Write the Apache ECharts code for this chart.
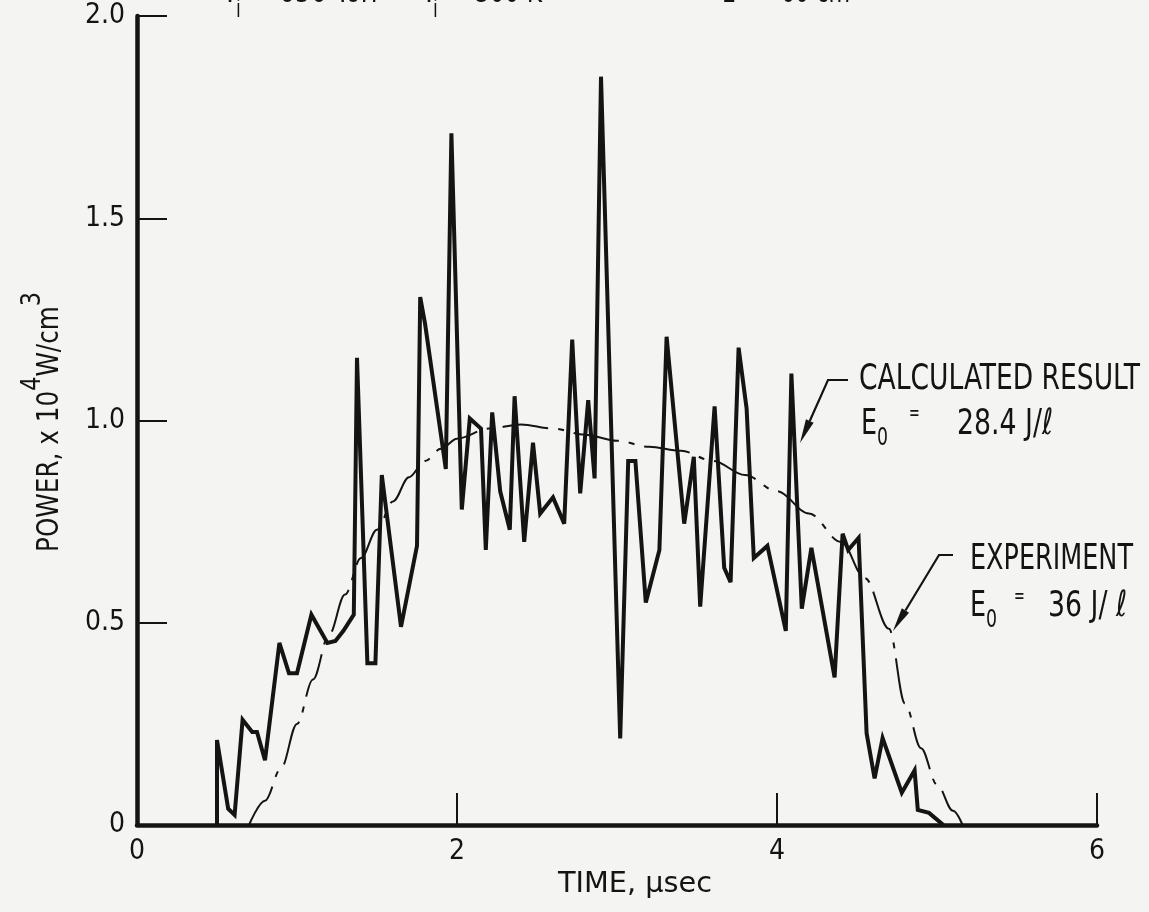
<!DOCTYPE html>
<html><head><meta charset="utf-8">
<script src="https://cdn.jsdelivr.net/npm/echarts@6/dist/echarts.min.js"></script>
<style>html,body{margin:0;padding:0;background:#f4f4f2}#c{width:1149px;height:912px}</style>
</head><body><div id="c"></div>
<script>
// ---- data ----
const xTickValues = [0, 2, 4, 6];
const yTickLabels = ['0', '0.5', '1.0', '1.5', '2.0'];
// jagged trace (labelled "CALCULATED RESULT")
const calcTime = [0.50,0.50,0.57,0.61,0.66,0.72,0.75,0.80,0.89,0.95,1.00,1.09,1.19,1.24,1.29,1.355,1.375,1.44,1.49,1.53,1.65,1.75,1.77,1.80,1.93,1.965,2.03,2.08,2.15,2.18,2.22,2.27,2.33,2.36,2.42,2.475,2.52,2.60,2.67,2.72,2.77,2.82,2.86,2.90,3.02,3.07,3.115,3.18,3.265,3.31,3.42,3.48,3.52,3.61,3.67,3.71,3.76,3.81,3.855,3.94,4.055,4.09,4.155,4.215,4.36,4.41,4.445,4.51,4.56,4.61,4.66,4.78,4.86,4.88,4.95,5.04];
const calcPower = [0,0.21,0.04,0.025,0.26,0.23,0.23,0.16,0.45,0.375,0.375,0.52,0.45,0.455,0.48,0.52,1.155,0.40,0.40,0.865,0.49,0.69,1.305,1.24,0.88,1.71,0.78,1.005,0.98,0.68,1.02,0.825,0.73,1.06,0.70,0.945,0.77,0.81,0.745,1.20,0.82,1.05,0.857,1.85,0.214,0.90,0.90,0.55,0.68,1.207,0.745,0.91,0.54,1.035,0.636,0.60,1.18,1.03,0.66,0.69,0.48,1.116,0.535,0.685,0.365,0.72,0.68,0.71,0.227,0.115,0.215,0.08,0.135,0.037,0.03,0];
// smooth dash-dot trace (labelled "EXPERIMENT")
const expTime = [0.70,0.80,0.90,1.00,1.10,1.20,1.30,1.40,1.50,1.60,1.70,1.80,1.90,2.00,2.20,2.40,2.60,2.80,3.00,3.20,3.40,3.60,3.80,4.00,4.20,4.40,4.55,4.70,4.80,4.90,5.00,5.10,5.16];
const expPower = [0,0.06,0.14,0.25,0.36,0.47,0.57,0.66,0.73,0.80,0.86,0.90,0.93,0.955,0.98,0.99,0.98,0.965,0.95,0.935,0.925,0.90,0.865,0.825,0.77,0.70,0.61,0.485,0.30,0.19,0.10,0.035,0];

// ---- build ----
const FONT = "'Liberation Sans Narrow','DejaVu Sans Condensed','Liberation Sans',sans-serif";
const INK = '#141414';
const calcData = calcTime.map((t, i) => [t, calcPower[i]]);
const expData = expTime.map((t, i) => [t, expPower[i]]);

const ctx = document.createElement('canvas').getContext('2d');
function tw(text, size) { ctx.font = size + 'px ' + FONT; return ctx.measureText(text).width; }

function txt(text, x, y, size, align, valign, extra) {
  return Object.assign({
    type: 'text', x: x, y: y, silent: true,
    style: { text: text, fontSize: size, fontFamily: FONT, fill: INK,
      textAlign: align || 'left', textVerticalAlign: valign || 'middle',
      align: align || 'left', verticalAlign: valign || 'middle' }
  }, extra || {});
}
// text squeezed horizontally to span [left, right]
function fit(text, left, right, y, size, valign) {
  const s = (right - left) / tw(text, size);
  return txt(text, left, y, size, 'left', valign || 'middle', { scaleX: s, scaleY: 1 });
}
function sq(text, left, y, size, s) {
  return txt(text, left, y, size, 'left', 'middle', { scaleX: s, scaleY: 1 });
}

function leader(from, knee, tip) {
  const dx = tip[0] - knee[0], dy = tip[1] - knee[1];
  const L = Math.hypot(dx, dy), ux = dx / L, uy = dy / L;
  const hl = 24, hw = 4.2;
  const bx = tip[0] - ux * hl, by = tip[1] - uy * hl;
  const px = -uy * hw, py = ux * hw;
  return [
    { type: 'polyline', silent: true, shape: { points: [from, knee, [bx, by]] },
      style: { stroke: INK, lineWidth: 2.2, fill: null } },
    { type: 'polygon', silent: true, shape: { points: [tip, [bx + px, by + py], [bx - px, by - py]] },
      style: { fill: INK } }
  ];
}

// rotated y-axis title with superscripts, squeezed to the reference length
function yTitle(cx, cy, length) {
  const main = 30, sup = 27;
  const parts = [['POWER, x 10', main, 0], ['4', sup, -17], ['W/cm', main, 0], ['3', sup, -17]];
  const widths = parts.map(p => tw(p[0], p[1]));
  const total = widths.reduce((a, b) => a + b, 0);
  let x = -total / 2;
  const children = parts.map((p, i) => {
    const el = txt(p[0], x, p[2], p[1], 'left', 'middle');
    x += widths[i];
    return el;
  });
  return { type: 'group', x: cx, y: cy, rotation: Math.PI / 2,
    children: [{ type: 'group', scaleX: length / total, children: children }] };
}

const numScale = 96 / tw('28.4 J/\u2113', 36);

const graphics = [
  // truncated header line at the very top
  fit('T', 222, 238, 10, 34, 'bottom'), txt('i', 236, 23, 24, 'left', 'bottom', { scaleX: 0.8 }),
  fit('= 650 Torr', 250, 381, 10, 34, 'bottom'),
  fit('T', 421, 437, 10, 34, 'bottom'), txt('i', 433, 23, 24, 'left', 'bottom', { scaleX: 0.8 }),
  fit('= 300 K', 448, 542, 10, 34, 'bottom'),
  fit('L  =  60 cm', 722, 850, 10, 34, 'bottom'),
  // axis titles
  fit('TIME, \u03bcsec', 558, 712, 884, 29, 'middle'),
  yTitle(50, 422, 260),
  // annotation: calculated result
  fit('CALCULATED RESULT', 859, 1140, 380, 36),
  fit('E', 861, 877, 425, 36),
  fit('0', 877, 888, 439, 24),
  sq('=', 909, 414, 22, 0.65),
  sq('28.4 J/\u2113', 957, 425, 36, numScale),
  // annotation: experiment
  fit('EXPERIMENT', 970, 1133, 560, 36),
  fit('E', 970, 986, 607, 36),
  fit('0', 986, 997, 621, 24),
  sq('=', 1014, 597, 22, 0.65),
  sq('36 J/ \u2113', 1048, 607, 36, numScale)
].concat(leader([848, 380], [828, 380], [800, 443]))
 .concat(leader([953, 555], [939, 555], [893, 631]));

const chart = echarts.init(document.getElementById('c'), null, { renderer: 'canvas' });
chart.setOption({
  backgroundColor: '#f4f4f2',
  animation: false,
  grid: { left: 137, right: 52, top: 16, bottom: 87, containLabel: false },
  xAxis: {
    type: 'value', min: 0, max: 6, interval: 2,
    axisLine: { show: true, lineStyle: { color: INK, width: 4.5 } },
    axisTick: { show: true, inside: true, length: 32, lineStyle: { color: INK, width: 2 },
      customValues: xTickValues },
    axisLabel: { show: true, margin: 13, fontSize: 28, fontFamily: FONT, color: INK,
      customValues: xTickValues, formatter: v => String(v) },
    splitLine: { show: false }
  },
  yAxis: {
    type: 'value', min: 0, max: 2, interval: 0.5,
    axisLine: { show: true, lineStyle: { color: INK, width: 4.5 } },
    axisTick: { show: true, inside: true, length: 30, lineStyle: { color: INK, width: 2 } },
    axisLabel: { show: true, margin: 12, fontSize: 28, fontFamily: FONT, color: INK,
      formatter: v => yTickLabels[Math.round(v / 0.5)] },
    splitLine: { show: false }
  },
  series: [
    { name: 'Calculated result', type: 'line', data: calcData, showSymbol: false, symbol: 'none',
      lineStyle: { color: INK, width: 4, join: 'miter', miterLimit: 4 }, z: 3 },
    { name: 'Experiment', type: 'line', data: expData, showSymbol: false, symbol: 'none',
      smooth: 0.35, smoothMonotone: 'x',
      lineStyle: { color: INK, width: 2, type: [46, 10, 6, 10] }, z: 2 }
  ],
  graphic: graphics
});
</script></body></html>
